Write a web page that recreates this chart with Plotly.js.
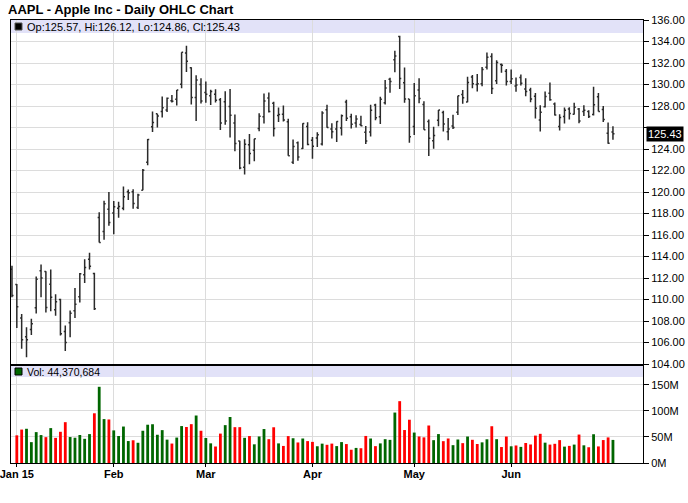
<!DOCTYPE html>
<html><head><meta charset="utf-8">
<script src="https://cdn.plot.ly/plotly-3.0.1.min.js"></script>
<style>html,body{margin:0;padding:0;background:#fff}#chart{width:688px;height:503px}</style>
</head><body><div id="chart"></div>
<script>
const dates = ['2014-12-31',
'2015-01-02','2015-01-05','2015-01-06','2015-01-07','2015-01-08','2015-01-09','2015-01-12','2015-01-13','2015-01-14','2015-01-15','2015-01-16','2015-01-20','2015-01-21','2015-01-22','2015-01-23','2015-01-26','2015-01-27','2015-01-28','2015-01-29','2015-01-30',
'2015-02-02','2015-02-03','2015-02-04','2015-02-05','2015-02-06','2015-02-09','2015-02-10','2015-02-11','2015-02-12','2015-02-13','2015-02-17','2015-02-18','2015-02-19','2015-02-20','2015-02-23','2015-02-24','2015-02-25','2015-02-26','2015-02-27',
'2015-03-02','2015-03-03','2015-03-04','2015-03-05','2015-03-06','2015-03-09','2015-03-10','2015-03-11','2015-03-12','2015-03-13','2015-03-16','2015-03-17','2015-03-18','2015-03-19','2015-03-20','2015-03-23','2015-03-24','2015-03-25','2015-03-26','2015-03-27','2015-03-30','2015-03-31',
'2015-04-01','2015-04-02','2015-04-06','2015-04-07','2015-04-08','2015-04-09','2015-04-10','2015-04-13','2015-04-14','2015-04-15','2015-04-16','2015-04-17','2015-04-20','2015-04-21','2015-04-22','2015-04-23','2015-04-24','2015-04-27','2015-04-28','2015-04-29','2015-04-30',
'2015-05-01','2015-05-04','2015-05-05','2015-05-06','2015-05-07','2015-05-08','2015-05-11','2015-05-12','2015-05-13','2015-05-14','2015-05-15','2015-05-18','2015-05-19','2015-05-20','2015-05-21','2015-05-22','2015-05-26','2015-05-27','2015-05-28','2015-05-29',
'2015-06-01','2015-06-02','2015-06-03','2015-06-04','2015-06-05','2015-06-08','2015-06-09','2015-06-10','2015-06-11','2015-06-12','2015-06-15','2015-06-16','2015-06-17','2015-06-18','2015-06-19','2015-06-22','2015-06-23','2015-06-24','2015-06-25','2015-06-26','2015-06-29','2015-06-30'];

const openP = [112.82,
111.39,108.29,106.54,107.20,109.23,112.67,112.60,111.43,109.04,110.00,107.03,107.84,108.95,110.26,112.30,113.74,112.42,117.63,116.32,118.40,
118.05,118.50,118.50,120.02,120.02,118.55,120.17,122.77,126.06,127.28,127.49,127.63,128.48,128.62,130.02,132.94,131.56,128.79,130.00,
129.25,128.96,129.10,128.58,128.40,127.96,126.41,124.75,122.31,124.40,123.88,125.90,127.00,128.75,128.25,127.12,127.23,126.54,122.76,124.57,124.05,126.09,
124.82,125.03,124.47,127.64,125.85,125.85,125.95,128.37,127.00,126.41,126.28,125.55,125.57,128.10,126.99,128.30,130.49,132.31,134.46,130.16,128.64,
126.10,129.50,128.15,126.56,124.77,126.68,127.39,125.60,126.15,127.41,129.07,128.38,130.69,130.00,130.07,131.60,132.60,130.34,131.86,131.23,
130.28,129.86,130.66,129.58,129.50,128.90,126.70,127.92,129.18,128.19,126.10,127.03,127.72,127.23,127.71,127.49,127.48,127.21,128.86,127.67,125.46,125.57];

const highP = [113.13,
111.44,108.65,107.43,108.20,112.15,113.25,112.63,112.80,110.49,110.06,107.58,108.97,111.06,112.47,113.75,114.36,112.48,118.12,119.19,120.00,
119.17,119.09,120.51,120.23,120.25,119.84,122.15,124.92,127.48,127.28,128.88,128.78,129.03,129.50,133.00,133.60,131.60,130.87,130.57,
130.28,129.52,129.56,128.75,129.37,129.57,127.22,124.77,124.90,125.40,124.95,127.32,129.16,129.25,128.40,127.85,128.04,126.82,124.88,124.70,126.40,126.49,
125.12,125.56,127.51,128.12,126.40,126.58,127.21,128.57,127.29,127.13,127.10,126.14,128.12,128.20,128.87,130.42,130.63,133.13,134.54,131.59,128.64,
130.13,130.57,128.45,126.75,126.08,127.62,127.56,126.88,127.19,128.95,129.49,130.72,130.88,130.98,131.63,132.97,132.91,132.26,131.95,131.45,
131.39,130.66,130.94,130.58,129.69,129.21,128.08,129.34,130.18,128.33,127.24,127.85,127.88,128.31,127.82,128.06,127.61,129.80,129.20,127.99,126.47,126.12];

const lowP = [110.21,
107.35,105.41,104.63,106.70,108.70,110.21,108.80,108.91,108.50,106.66,105.20,106.50,108.27,109.72,111.53,112.80,109.03,115.31,115.56,116.85,
116.08,117.61,118.31,119.25,118.45,118.43,120.16,122.50,125.57,126.00,126.92,127.45,128.33,128.05,129.66,131.17,128.15,126.61,128.24,
128.30,128.09,128.32,125.76,126.26,125.06,123.80,122.11,121.63,122.58,122.87,125.65,126.37,127.40,125.16,126.52,126.56,123.38,122.60,122.91,124.00,124.36,
123.10,124.19,124.33,125.98,124.97,124.66,125.26,126.61,125.91,126.01,126.11,124.46,125.17,126.67,126.32,128.14,129.23,131.15,129.57,128.30,124.58,
125.30,128.26,125.78,123.36,124.02,126.11,125.63,124.82,125.87,127.16,128.21,128.36,129.64,129.34,129.83,131.40,129.12,130.05,131.10,129.90,
130.05,129.32,129.90,128.91,128.36,126.83,125.62,127.85,128.48,127.11,125.71,126.37,126.74,127.22,126.40,127.08,126.88,127.12,127.50,126.51,124.48,124.86];

const closeP = [110.38,
109.33,106.25,106.26,107.75,111.89,112.01,109.25,110.22,109.80,106.82,105.99,108.72,109.55,112.40,112.98,113.10,109.14,115.31,118.90,117.16,
118.63,118.65,119.56,119.94,118.93,119.72,122.02,124.88,126.46,127.08,127.83,128.72,128.45,129.50,133.00,132.17,128.79,130.42,128.46,
129.09,129.36,128.54,126.41,126.60,127.14,124.51,122.24,124.45,123.59,124.95,127.04,128.47,127.50,125.90,127.21,126.69,123.38,124.24,123.25,126.37,124.43,
124.25,125.32,127.35,126.01,125.60,126.56,127.10,126.85,126.30,126.78,126.17,124.75,127.60,126.91,128.62,129.67,130.28,132.65,130.56,128.64,125.15,
128.95,128.70,125.80,125.01,125.26,127.62,126.32,125.87,126.01,128.95,128.77,130.19,130.07,130.06,131.39,132.54,129.62,132.05,131.78,130.28,
130.54,129.96,130.12,129.36,128.65,127.80,127.42,128.88,128.59,127.17,126.92,127.60,127.30,127.88,126.60,127.61,127.03,128.11,127.50,126.75,124.53,125.43];

// volume in millions of shares (first day not drawn)
const volumeM = [null,
53.2,64.3,65.8,40.1,59.4,53.7,49.7,67.1,48.3,60.0,78.5,49.9,48.6,53.8,46.5,55.6,95.6,146.5,84.4,83.7,
62.7,51.9,70.1,42.2,43.7,38.9,62.0,73.6,74.5,54.3,63.2,44.9,37.4,48.9,71.0,69.2,74.7,91.3,62.0,
48.1,37.8,31.7,56.5,72.8,88.5,68.9,68.9,48.4,51.8,35.9,51.0,65.3,45.8,68.7,37.7,32.8,51.7,47.6,39.5,47.1,42.1,
40.6,32.2,37.2,35.0,37.3,32.5,40.2,36.4,25.5,29.0,28.4,52.0,47.1,32.4,37.7,45.8,44.5,97.0,118.9,63.4,83.2,
58.5,51.0,49.3,72.1,43.9,55.6,42.0,47.1,34.3,45.2,38.2,50.9,44.6,36.5,39.7,45.6,70.7,45.8,30.7,50.9,
32.1,33.7,31.0,38.5,35.6,52.7,56.1,39.1,35.4,36.9,44.0,31.5,32.9,35.4,54.7,34.0,30.3,55.3,31.9,44.1,49.2,44.370684];

const monthLabels = ['Jan 15','Feb','Mar','Apr','May','Jun'];
const priceTicks = [104,106,108,110,112,114,116,118,120,122,124,126,128,130,132,134,136];
const volTicks = [0,50,100,150];
const volTickText = ['0M','50M','100M','150M'];
const title = 'AAPL - Apple Inc - Daily OHLC Chart';

const idx = dates.map((d,i)=>i);
// first trading day of each month (Jan..Jun 2015)
const monthIdx = [];
dates.forEach((d,i)=>{ if(d.startsWith('2015') && (i===0 || dates[i-1].slice(0,7)!==d.slice(0,7))) monthIdx.push(i); });
const volColors = volumeM.map((v,i)=> i===0 ? '#ff0000' : (closeP[i] >= closeP[i-1] ? '#006600' : '#ff0000'));
const n = dates.length - 1;
const fmt = v => v.toFixed(2);

const W=688,H=503,L=11,R=45,T=20,B=40;
const ph = H-T-B, pw = W-L-R;
const py = px => (H-B-px)/ph;   // pixel y -> paper
const pxx = px => (px-L)/pw;    // pixel x -> paper

const FONT = 'Liberation Sans, Arial, sans-serif';
const grid = '#dcdcdc';

const traces = [
 {type:'ohlc', x:idx, open:openP, high:highP, low:lowP, close:closeP,
  xaxis:'x2', yaxis:'y', tickwidth:0.32, hoverinfo:'skip',
  increasing:{line:{color:'#2a2a2a', width:1.5}}, decreasing:{line:{color:'#2a2a2a', width:1.5}}},
 {type:'bar', x:idx, y:volumeM, xaxis:'x', yaxis:'y2', width:0.58,
  marker:{color:volColors, line:{width:0}}, hoverinfo:'skip'}
];

const priceText = priceTicks.map(v => v===126 ? '' : v.toFixed(2));

const layout = {
 width:W, height:H, margin:{l:L,r:R,t:T,b:B},
 paper_bgcolor:'#fff', plot_bgcolor:'#fff', showlegend:false,
 font:{family:FONT, size:11, color:'#000'},
 title:{text:'<b>'+title+'</b>', x:8/W, xanchor:'left', xref:'container', y:1-9/H, yanchor:'middle', yref:'container',
        font:{family:FONT, size:13, color:'#000'}},
 xaxis:{domain:[0,1], anchor:'y2', range:[-0.2,130.2], tickmode:'array', tickvals:monthIdx, ticktext:monthLabels,
        showgrid:true, gridcolor:grid, gridwidth:1, zeroline:false, showline:true, linecolor:'#000', linewidth:1, mirror:true,
        ticks:'outside', ticklen:3, tickcolor:'#000', ticklabeloverflow:'allow', ticklabelstandoff:-2,
        tickfont:{family:FONT, size:11, weight:'bold', color:'#000'}, fixedrange:true},
 xaxis2:{domain:[0,1], anchor:'y', matches:'x', range:[-0.2,130.2], tickmode:'array', tickvals:monthIdx, showticklabels:false,
        showgrid:true, gridcolor:grid, gridwidth:1, zeroline:false, showline:true, linecolor:'#000', linewidth:1, mirror:true,
        ticks:'', rangeslider:{visible:false}},
 yaxis:{domain:[py(364),1], anchor:'x2', side:'right', range:[104,136], tickmode:'array', tickvals:priceTicks, ticktext:priceText,
        showgrid:true, gridcolor:grid, zeroline:false, showline:true, linecolor:'#000', linewidth:1, mirror:true,
        ticks:'outside', ticklen:5, tickcolor:'#000', tickfont:{family:FONT, size:11, color:'#000'}},
 yaxis2:{domain:[0,py(366)], anchor:'x', side:'right', range:[0,186.5], tickmode:'array', tickvals:volTicks, ticktext:volTickText,
        showgrid:true, gridcolor:grid, zeroline:false, showline:true, linecolor:'#000', linewidth:1, mirror:true,
        ticks:'outside', ticklen:5, tickcolor:'#000', tickfont:{family:FONT, size:11, color:'#000'}},
 bargap:0.4,
 shapes:[
  {type:'rect', xref:'paper', yref:'paper', x0:0, x1:1, y0:py(33), y1:1, fillcolor:'#e2e2f8', line:{width:0}, layer:'below'},
  {type:'rect', xref:'paper', yref:'paper', x0:0, x1:1, y0:py(377), y1:py(366), fillcolor:'#e2e2f8', line:{width:0}, layer:'below'},
  {type:'rect', xref:'paper', yref:'paper', x0:pxx(15), x1:pxx(22), y0:py(30), y1:py(23), fillcolor:'#000', line:{color:'#555',width:1}},
  {type:'rect', xref:'paper', yref:'paper', x0:pxx(15), x1:pxx(22), y0:py(375), y1:py(368), fillcolor:'#006600', line:{color:'#000',width:1}},
  {type:'line', xref:'paper', yref:'paper', x0:0, x1:1, y0:py(365), y1:py(365), line:{color:'#000', width:2}}
 ],
 annotations:[
  {xref:'paper', yref:'paper', x:pxx(25), y:py(26.5), xanchor:'left', yanchor:'middle', showarrow:false,
   text:'Op:'+fmt(openP[n])+', Hi:'+fmt(highP[n])+', Lo:'+fmt(lowP[n])+', Cl:'+fmt(closeP[n]), font:{family:FONT,size:11,color:'#000'}},
  {xref:'paper', yref:'paper', x:pxx(25), y:py(371.5), xanchor:'left', yanchor:'middle', showarrow:false,
   text:'Vol: '+Math.round(volumeM[n]*1e6).toLocaleString('en-US'), font:{family:FONT,size:10.5,color:'#000'}},
  {xref:'paper', yref:'y', x:1, xshift:3, y:closeP[n], xanchor:'left', yanchor:'middle', showarrow:false,
   text:fmt(closeP[n]), bgcolor:'#000', borderpad:1, font:{family:FONT,size:11,color:'#fff'}}
 ]
};
Plotly.newPlot('chart', traces, layout, {staticPlot:true, displayModeBar:false});
</script></body></html>
